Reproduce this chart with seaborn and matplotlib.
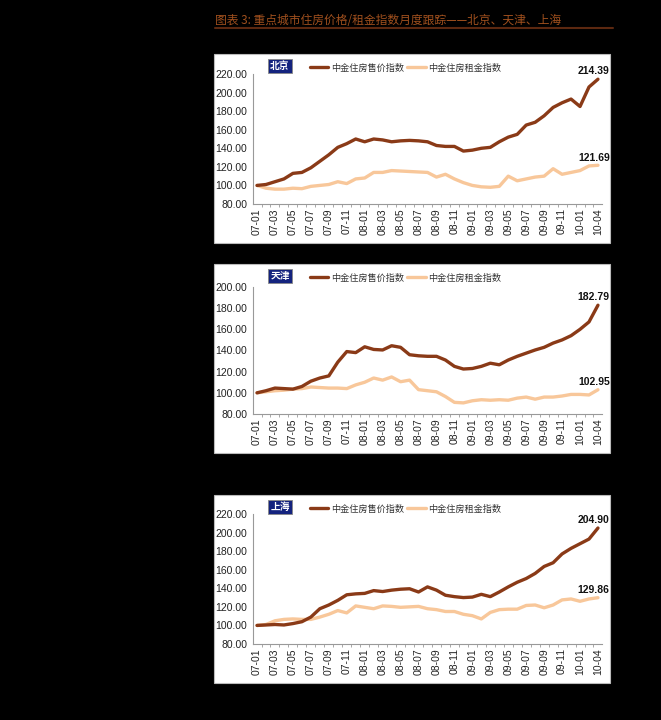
import numpy as np
import pandas as pd
import matplotlib
matplotlib.use('Agg')
import matplotlib.pyplot as plt
from matplotlib.patches import Rectangle
from matplotlib.lines import Line2D
from matplotlib.ticker import FixedLocator
import seaborn as sns

# Data
MONTHS = ['07-01', '07-02', '07-03', '07-04', '07-05', '07-06', '07-07', '07-08', '07-09', '07-10',
          '07-11', '07-12', '08-01', '08-02', '08-03', '08-04', '08-05', '08-06', '08-07', '08-08',
          '08-09', '08-10', '08-11', '08-12', '09-01', '09-02', '09-03', '09-04', '09-05', '09-06',
          '09-07', '09-08', '09-09', '09-10', '09-11', '09-12', '10-01', '10-02', '10-04']

CITIES = ['北京', '天津', '上海']
SALE_LABEL = '中金住房售价指数'
RENT_LABEL = '中金住房租金指数'

BJ_SALE = [100, 101, 104, 107, 113, 114, 119, 126, 133, 141, 145, 150, 147, 150, 149, 147,
           148, 148.5, 148, 147, 143, 142, 142, 137, 138, 140, 141, 147, 152, 155, 165, 168,
           175, 184, 189, 193, 185, 206, 214.39]
BJ_RENT = [100, 97, 96, 96, 97, 96.5, 99, 100, 101, 104, 102, 107, 108, 114, 114, 116,
           115.5, 115, 114.5, 114, 109, 112, 107, 103, 100, 98.5, 98, 99, 110, 105, 107, 109,
           110, 118, 112, 114, 116, 121, 121.69]

TJ_SALE = [100, 102, 104.5, 104, 103.5, 106, 111, 114, 116, 129, 139, 138, 143.5, 141, 140.5,
           144.5, 143, 136, 135, 134.5, 134.5, 131, 125, 122.5, 123, 125, 128, 126.5, 131,
           134.5, 137.5, 140.5, 143, 147, 150, 154, 160, 167, 182.79]
TJ_RENT = [100, 101, 102, 102.5, 103.5, 104, 105.5, 105, 104.5, 104.5, 104, 107.5, 110, 114,
           112, 115, 110.5, 112, 103, 102, 101, 96.5, 91, 90.5, 92.5, 93.5, 93, 93.5, 93, 95,
           96, 94, 96, 96, 97, 98.5, 98.5, 98, 102.95]

SH_SALE = [100, 100.5, 101, 100.5, 102, 104, 109, 118, 122, 127, 133, 134, 134.5, 137.5, 136.5,
           138, 139, 139.5, 136, 141.5, 138, 132.5, 131, 130, 130.5, 133.5, 131, 136, 141.5,
           146.5, 150.5, 156, 163.5, 167.5, 177, 183, 188, 193, 204.90]
SH_RENT = [100, 101, 105, 106.5, 107, 106.5, 106.5, 109, 112, 116, 113.5, 121, 119.5, 118, 121,
           120.5, 119.5, 120, 120.5, 118, 117, 115, 115, 112, 110.5, 107, 114, 117, 117.5,
           117.5, 121.5, 122, 119, 122, 127.5, 128.5, 126, 128.5, 129.86]

SALES = [BJ_SALE, TJ_SALE, SH_SALE]
RENTS = [BJ_RENT, TJ_RENT, SH_RENT]
YTOPS = [220, 200, 220]

TITLE = '图表 3: 重点城市住房价格/租金指数月度跟踪——北京、天津、上海'

DARK = '#8A3A17'
LIGHT = '#F8C79A'
NAVY = '#14237E'

W, H = 661, 720

sns.set_style('white')
plt.rcParams['font.family'] = ['Liberation Sans', 'Noto Sans CJK SC', 'DejaVu Sans']

fig = plt.figure(figsize=(W / 100, H / 100), dpi=100)
fig.patch.set_facecolor('black')


def fx(px):
    return px / W


def fy(py):
    return 1 - py / H


# title and underline
fig.text(fx(215), fy(20), TITLE, color='#A0501E', fontsize=8.5, style='italic',
         va='center', ha='left', family=['Noto Sans CJK SC', 'DejaVu Sans'])
fig.add_artist(Line2D([fx(215), fx(613)], [fy(28), fy(28)], color='#5C2810', lw=1.5))

# panel layout in pixels: (panel top, panel bottom, axes top, axes bottom)
layout = [(54, 243, 74, 204), (264, 453, 287, 414), (495, 683, 514, 644)]

x = np.arange(len(MONTHS))
tick_idx = list(range(0, len(MONTHS) - 1, 2)) + [len(MONTHS) - 1]

for k, city in enumerate(CITIES):
    ptop, pbot, atop, abot = layout[k]
    fig.add_artist(Rectangle((fx(214), fy(pbot)), fx(610) - fx(214), fy(ptop) - fy(pbot),
                             transform=fig.transFigure, facecolor='white',
                             edgecolor='#bbbbbb', lw=0.8, zorder=0))
    ax = fig.add_axes([fx(253), fy(abot), fx(602) - fx(253), fy(atop) - fy(abot)])
    ax.set_facecolor('white')

    df = pd.DataFrame({'idx': np.concatenate([x, x]),
                       'value': SALES[k] + RENTS[k],
                       'series': [SALE_LABEL] * len(x) + [RENT_LABEL] * len(x)})
    sns.lineplot(data=df, x='idx', y='value', hue='series',
                 palette={SALE_LABEL: DARK, RENT_LABEL: LIGHT},
                 hue_order=[RENT_LABEL, SALE_LABEL], linewidth=2.4, ax=ax)

    ax.set_xlim(-0.45, len(MONTHS) - 0.55)
    ax.set_ylim(80, YTOPS[k])
    ax.set_yticks(np.arange(80, YTOPS[k] + 1, 20))
    ax.set_yticklabels([f'{v:.2f}' for v in np.arange(80, YTOPS[k] + 1, 20)], fontsize=7.5)
    ax.set_xticks(tick_idx)
    ax.set_xticklabels([MONTHS[i] for i in tick_idx], rotation=90, fontsize=7.5)
    ax.xaxis.set_minor_locator(FixedLocator(np.arange(-0.5, len(MONTHS), 1)))
    ax.tick_params(axis='x', which='major', length=0, pad=3, colors='#222222')
    ax.tick_params(axis='x', which='minor', length=2.5, color='#999999', bottom=True)
    ax.tick_params(axis='y', length=0, pad=4, colors='#222222')
    ax.set_xlabel('')
    ax.set_ylabel('')
    for s in ['top', 'right']:
        ax.spines[s].set_visible(False)
    for s in ['left', 'bottom']:
        ax.spines[s].set_color('#999999')
        ax.spines[s].set_linewidth(0.8)

    # legend above the plot area
    handles = [Line2D([0], [0], color=DARK, lw=2.4), Line2D([0], [0], color=LIGHT, lw=2.4)]
    leg = ax.legend(handles, [SALE_LABEL, RENT_LABEL], ncol=2, frameon=False,
                    loc='center left', fontsize=6.6, handlelength=2.0, handletextpad=0.3,
                    columnspacing=0.4, borderaxespad=0,
                    bbox_to_anchor=((306 - 253) / 349, 1 + (atop - (ptop + 14)) / (abot - atop)))
    for t in leg.get_texts():
        t.set_family(['Noto Sans CJK SC', 'DejaVu Sans'])
        t.set_color('#333333')

    # city tag
    ax.text((280 - 253) / 349, 1 + (atop - (ptop + 12)) / (abot - atop), city,
            transform=ax.transAxes, ha='center', va='center', color='white',
            fontsize=7, fontweight='bold', family=['Noto Sans CJK SC', 'DejaVu Sans'],
            bbox=dict(boxstyle='square,pad=0.25', facecolor=NAVY, edgecolor='#888888', lw=0.6))

    # end-point value labels
    for series in (SALES[k], RENTS[k]):
        ax.annotate(f'{series[-1]:.2f}', (x[-1], series[-1]), xytext=(-3, 2),
                    textcoords='offset points', ha='center', va='bottom',
                    fontsize=7.5, fontweight='bold', color='#111111')

fig.savefig('out.png', dpi=100, facecolor=fig.get_facecolor())
